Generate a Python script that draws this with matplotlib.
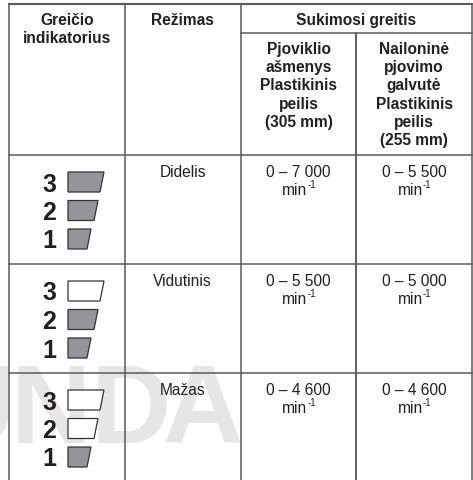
import matplotlib
matplotlib.use('Agg')
from matplotlib import pyplot as plt
from matplotlib.patches import Polygon

plt.rcParams['font.family'] = ['Liberation Sans', 'DejaVu Sans']

# table content
header_indicator = 'Greičio\nindikatorius'
header_mode = 'Režimas'
header_speed = 'Sukimosi greitis'
header_blade = 'Pjoviklio\našmenys\nPlastikinis\npeilis\n(305 mm)'
header_nylon = 'Nailoninė\npjovimo\ngalvutė\nPlastikinis\npeilis\n(255 mm)'
modes = ['Didelis', 'Vidutinis', 'Mažas']
speed_blade = ['0 – 7 000', '0 – 5 500', '0 – 4 600']
speed_nylon = ['0 – 5 500', '0 – 5 000', '0 – 4 600']
speed_unit = 'min'
speed_power = '-1'
lamp_numbers = [3, 2, 1]
lamps_lit = [[True, True, True], [False, True, True], [False, False, True]]
watermark = ['U', 'N', 'D', 'A']

# layout in pixels
W, H = 473, 480
col_x = [9, 124.5, 240.5, 356, 472]
row_y = [4, 155, 264, 373, 480]
sub_y = 33
line_col = '#5a5a5a'
text_col = '#231f20'
lamp_col = '#939598'
lamp_w = [36, 30, 23]
watermark_x = [-26, 51, 131, 202]

fig = plt.figure(figsize=(W / 100, H / 100), dpi=100)
ax = fig.add_axes([0, 0, 1, 1])
ax.set_xlim(0, W)
ax.set_ylim(H, 0)
ax.axis('off')

for letter, x in zip(watermark, watermark_x):
    ax.text(x, 443, letter, color='#e6e6e6', fontsize=80, fontweight='bold',
            ha='center', va='baseline', zorder=0)

# grid
lw = 1.1
ax.plot([col_x[0], col_x[0]], [row_y[0], row_y[-1]], color=line_col, lw=lw, zorder=2)
ax.plot([col_x[1], col_x[1]], [row_y[0], row_y[-1]], color=line_col, lw=lw, zorder=2)
ax.plot([col_x[2], col_x[2]], [row_y[0], row_y[-1]], color=line_col, lw=lw, zorder=2)
ax.plot([col_x[3], col_x[3]], [sub_y, row_y[-1]], color='#333333', lw=lw, zorder=2)
ax.plot([col_x[4], col_x[4]], [row_y[0], row_y[-1]], color=line_col, lw=lw, zorder=2)
ax.plot([col_x[0], col_x[-1]], [row_y[0], row_y[0]], color=line_col, lw=1.5, zorder=2)
ax.plot([col_x[2], col_x[-1]], [sub_y, sub_y], color=line_col, lw=lw, zorder=2)
for y in row_y[1:4]:
    ax.plot([col_x[0], col_x[-1]], [y, y], color=line_col, lw=lw, zorder=2)

# header
bold = dict(fontsize=11.2, fontweight='bold', color=text_col, ha='center', va='top',
            linespacing=1.27, zorder=3)
ax.text(67, 13, header_indicator, **bold)
ax.text(182.5, 13, header_mode, **bold)
ax.text(298.5 + 57.5, 13, header_speed, **bold)
ax.text(298.5, 42, header_blade, **bold)
ax.text(414, 42, header_nylon, **bold)

# body rows
body = dict(fontsize=11.2, color=text_col, ha='center', va='baseline', zorder=3)
for i, mode in enumerate(modes):
    top = row_y[i + 1]
    ax.text(182.5, top + 22, mode, **body)
    ax.text(298.5, top + 22, speed_blade[i], **body)
    ax.text(414, top + 22, speed_nylon[i], **body)
    for cx in (298.5, 414):
        ax.text(cx + 9, top + 40, speed_unit, color=text_col, fontsize=11.2,
                ha='right', va='baseline', zorder=3)
        ax.text(cx + 9, top + 33, speed_power, color=text_col, fontsize=7,
                ha='left', va='baseline', zorder=3)
    for j, number in enumerate(lamp_numbers):
        y0 = top + 17 + j * 28.5
        ax.text(49, y0 + 19.5, str(number), fontsize=18, fontweight='bold', color=text_col,
                ha='center', va='baseline', zorder=3)
        x0 = 68
        pts = [(x0, y0), (x0 + lamp_w[j], y0), (x0 + lamp_w[j] - 4, y0 + 20), (x0, y0 + 20)]
        face = lamp_col if lamps_lit[i][j] else 'white'
        ax.add_patch(Polygon(pts, closed=True, facecolor=face, edgecolor='#333333', lw=0.9, zorder=3))

fig.savefig('out.png', dpi=100, facecolor='white')
